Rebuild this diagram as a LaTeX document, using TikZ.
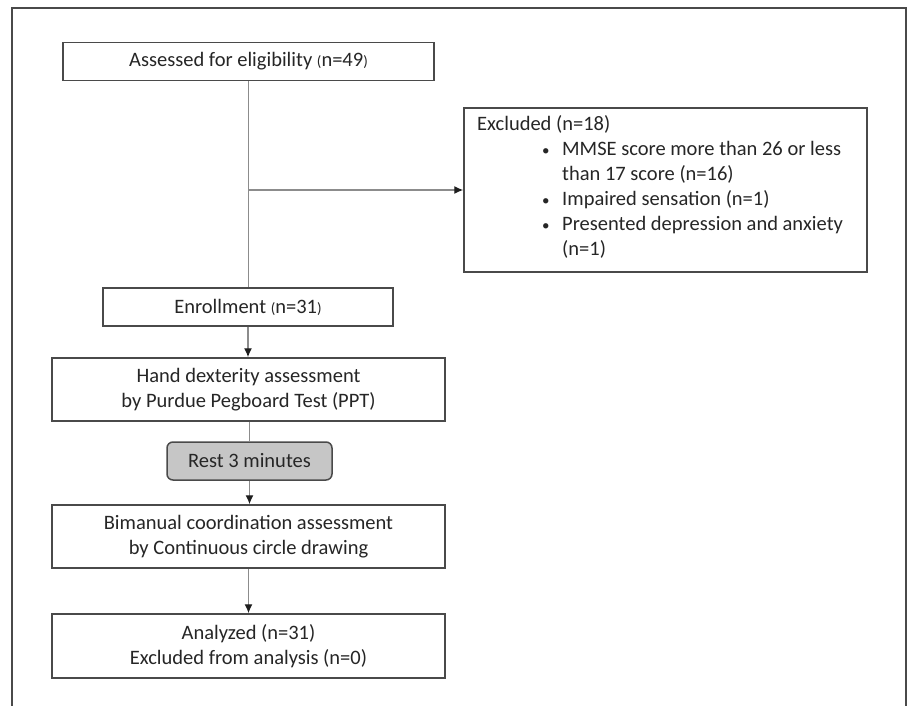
\documentclass[tikz,border=0pt]{standalone}
\usepackage{fontspec}
\setmainfont{Carlito}
\usetikzlibrary{arrows.meta}
\definecolor{txt}{HTML}{262626}
\definecolor{bord}{HTML}{4A4A4A}
\definecolor{conn}{HTML}{8C8C8C}
\definecolor{tip}{HTML}{1E1E1E}
\definecolor{restfill}{HTML}{C6C6C6}
\newcommand{\smallpar}[1]{{\fontsize{15}{20}\selectfont#1}}
\begin{document}
\begin{tikzpicture}[x=1pt,y=-1pt,
  every node/.style={font=\fontsize{20.5}{25}\selectfont, text=txt, inner sep=0pt},
  box/.style={draw=bord, line width=1.5pt, align=center, fill=white},
  restbox/.style={box, fill=restfill, rounded corners=6pt},
  link/.style={draw=conn, line width=1.3pt},
  arr/.style={link, -{Latex[length=9pt,width=8pt,color=tip]}}
]
\useasboundingbox (0,0) rectangle (912,706);
% outer frame (open at bottom)
\draw[bord, line width=1.2pt] (12,706) -- (12,8) -- (906,8) -- (906,706);

\node[box, minimum width=371pt, minimum height=38pt] (a1) at (248.5,61.5)
  {Assessed for eligibility \smallpar{(}n=49\smallpar{)}};
\node[box, minimum width=403pt, minimum height=164pt] (excl) at (665.5,190) {};
\node[anchor=north west, align=left] (excltxt) at (477,115) {%
  Excluded (n=18)\\
  \hspace*{65pt}\makebox[20pt][l]{\smallpar{\textbullet}}MMSE score more than 26 or less\\
  \hspace*{85pt}than 17 score (n=16)\\
  \hspace*{65pt}\makebox[20pt][l]{\smallpar{\textbullet}}Impaired sensation (n=1)\\
  \hspace*{65pt}\makebox[20pt][l]{\smallpar{\textbullet}}Presented depression and anxiety\\
  \hspace*{85pt}(n=1)};
\node[box, minimum width=290pt, minimum height=38pt] (enr) at (248,307)
  {Enrollment \smallpar{(}n=31\smallpar{)}};
\node[box, minimum width=393pt, minimum height=63pt] (hand) at (248.5,389.5)
  {Hand dexterity assessment\\by Purdue Pegboard Test (PPT)};
\node[restbox, minimum width=165pt, minimum height=38pt] (rest) at (249.5,461)
  {Rest 3 minutes};
\node[box, minimum width=393pt, minimum height=63pt] (bim) at (248.5,536.5)
  {Bimanual coordination assessment\\by Continuous circle drawing};
\node[box, minimum width=393pt, minimum height=64pt] (ana) at (248.5,646)
  {Analyzed (n=31)\\Excluded from analysis (n=0)};

\coordinate (br) at (a1.south |- excl.west);
\draw[link] (a1.south) -- (a1.south |- enr.north);
\draw[arr] (br) -- (excl.west);
\draw[arr] (enr.south) -- (enr.south |- hand.north);
\draw[link] (hand.south -| rest.north) -- (rest.north);
\draw[arr] (rest.south) -- (rest.south |- bim.north);
\draw[arr] (bim.south) -- (bim.south |- ana.north);
\end{tikzpicture}
\end{document}
